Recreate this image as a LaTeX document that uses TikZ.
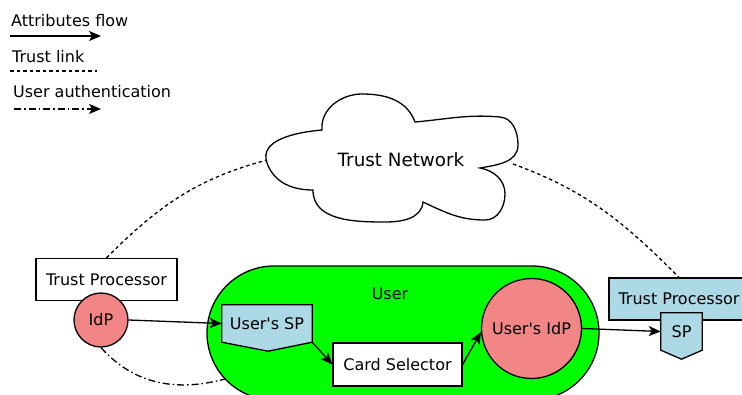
\documentclass[tikz,border=0pt]{standalone}
\usepackage{fontspec}
\setmainfont{DejaVu Sans}
\usetikzlibrary{arrows.meta}
\definecolor{idpred}{RGB}{242,134,134}
\definecolor{spblue}{RGB}{173,216,230}
\definecolor{usergreen}{RGB}{0,255,0}

\begin{document}
\begin{tikzpicture}[x=1pt,y=1pt,
  every node/.style={font=\fontsize{16}{19}\selectfont, inner sep=0pt},
  outline/.style={draw, line width=1.3pt},
  tip/.style={-{Stealth[length=12pt,width=10pt,inset=3pt]}},
  flow/.style={line width=1.3pt, tip},
  trust/.style={line width=1.3pt, dash pattern=on 3.5pt off 3pt},
  auth/.style={line width=1.3pt, dash pattern=on 7pt off 3pt on 1.5pt off 3pt},
  tpbox/.style={outline, minimum width=141pt, minimum height=42pt},
  idpcircle/.style={outline, circle, fill=idpred},
]
\useasboundingbox (0,0) rectangle (742,-394);

% legend
\node[anchor=base west] (lflow) at (11,-26) {Attributes flow};
\coordinate (lflowA) at (10,-36);
\coordinate (lflowB) at (101,-36);
\draw[flow] (lflowA) -- (lflowB);
\node[anchor=base west] (ltrust) at (12,-62) {Trust link};
\coordinate (ltrustA) at (10,-71);
\coordinate (ltrustB) at (97,-71);
\draw[trust] (ltrustA) -- (ltrustB);
\node[anchor=base west] (lauth) at (13,-97) {User authentication};
\coordinate (lauthA) at (14,-109);
\coordinate (lauthB) at (101,-109);
\draw[auth, tip] (lauthA) -- (lauthB);

% trust network cloud
\draw[line width=1.3pt, fill=white]
  (322,-130) to[out=95,in=180] (362,-94) to[out=0,in=110] (415,-122)
  to[out=5,in=175] (500,-117) to[out=-5,in=90] (518,-145) to[out=-90,in=10] (480,-168)
  to[out=-10,in=90] (505,-194) to[out=-90,in=0] (485,-220) to[out=180,in=-25] (423,-202)
  to[out=-95,in=0] (385,-222) to[out=180,in=-90] (313,-190)
  to[out=180,in=-70] (267,-163) to[out=110,in=185] cycle;
\node[font=\fontsize{18.3}{22}\selectfont] (cloud) at (401,-160) {Trust Network};
\coordinate (cloudL) at (267,-160);
\coordinate (cloudR) at (513,-164);

% user domain
\node[outline, fill=usergreen, rounded corners=67pt, minimum width=392pt, minimum height=134pt] (user) at (403,-333) {};
\node (userlbl) at (390,-294) {User};
\coordinate (userauth) at (225,-379);

% left trust processor and its IdP
\node[tpbox, fill=white] (tpl) at (106.5,-279.5) {Trust Processor};
\node[idpcircle, minimum size=54pt] (idp) at (101,-320) {IdP};

% right trust processor and its SP
\node[tpbox, fill=spblue, minimum width=140pt] (tpr) at (679,-299) {Trust Processor};
\node[minimum width=41pt, minimum height=37pt] (sp) at (681.5,-331.5) {};
\draw[outline, fill=spblue] (sp.north west) -- (sp.north east) -- (sp.south east)
  -- ([yshift=-9pt]sp.south) -- (sp.south west) -- cycle;
\node at (sp) {SP};

% user's SP
\node[minimum width=90pt, minimum height=37pt] (usp) at (267,-323.5) {};
\draw[outline, fill=spblue] (usp.north west) -- (usp.north east) -- (usp.south east)
  -- ([xshift=1pt,yshift=-9pt]usp.south) -- (usp.south west) -- cycle;
\node at (usp) {User\textquotesingle s SP};

% card selector and user's IdP
\node[outline, fill=white, minimum width=129pt, minimum height=43pt] (cs) at (397.5,-364.5) {Card Selector};
\node[idpcircle, minimum size=100pt] (uidp) at (531.5,-328.5) {User\textquotesingle s IdP};

% trust links
\draw[trust] (tpl.north) to[out=45,in=195] (cloudL);
\draw[trust] (cloudR) to[out=-20,in=135] (tpr.north);

% user authentication
\draw[auth] (idp.south) to[out=-48,in=195] (userauth);

% attribute flows
\draw[flow] (idp.east) -- (usp.west);
\draw[flow] (usp.south east) -- (cs.west);
\draw[flow] (cs.east) -- (uidp.184);
\draw[flow] (uidp.east) -- (sp.west);
\end{tikzpicture}
\end{document}
